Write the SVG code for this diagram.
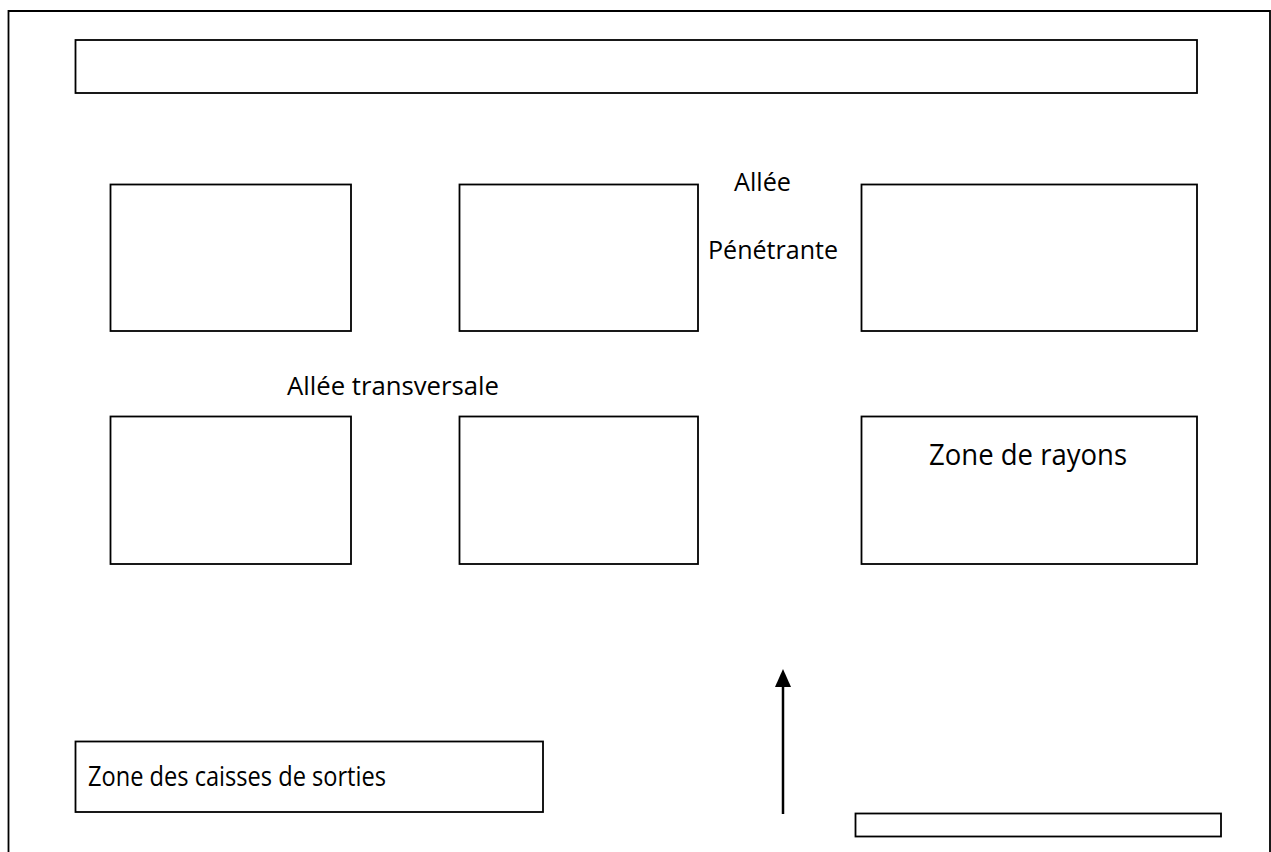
<svg xmlns="http://www.w3.org/2000/svg" width="1271" height="852" viewBox="0 0 1271 852">
<style>
.b{fill:#fff;stroke:#000;stroke-width:1.8}
.t{font-family:"Open Sans","Liberation Sans",sans-serif;fill:#000}
</style>
<defs>
<marker id="ah" markerWidth="18" markerHeight="16" refX="1" refY="8" orient="auto" markerUnits="userSpaceOnUse" viewBox="0 0 18 16">
<path d="M0,0 L18,8 L0,16 Z" fill="#000"/>
</marker>
</defs>
<rect width="1271" height="852" fill="#fff"/>
<g id="frame"><path d="M8.5,852 V11 H1270 V852" fill="none" stroke="#000" stroke-width="1.8"/></g>
<g id="topbar"><rect class="b" x="75.5" y="40" width="1121.5" height="53"/></g>
<g id="r1c1"><rect class="b" x="110.5" y="184.5" width="240.5" height="146.5"/></g>
<g id="r1c2"><rect class="b" x="459.5" y="184.5" width="238.5" height="146.5"/></g>
<g id="r1c3"><rect class="b" x="861.5" y="184.5" width="335.5" height="146.5"/></g>
<g id="r2c1"><rect class="b" x="110.5" y="416.5" width="240.5" height="147.5"/></g>
<g id="r2c2"><rect class="b" x="459.5" y="416.5" width="238.5" height="147.5"/></g>
<g id="r2c3"><rect class="b" x="861.5" y="416.5" width="335.5" height="147.5"/>
<text class="t" x="929" y="465" font-size="29" textLength="198" lengthAdjust="spacingAndGlyphs">Zone de rayons</text></g>
<g id="caisses"><rect class="b" x="75.5" y="741.5" width="467.5" height="70.5"/>
<text class="t" x="88" y="786" font-size="27" textLength="298" lengthAdjust="spacingAndGlyphs">Zone des caisses de sorties</text></g>
<g id="entree"><rect class="b" x="855.5" y="813.5" width="365.5" height="23"/></g>
<g id="labels">
<text class="t" x="734" y="191" font-size="25" textLength="57" lengthAdjust="spacingAndGlyphs">Allée</text>
<text class="t" x="708" y="259" font-size="25" textLength="130" lengthAdjust="spacingAndGlyphs">Pénétrante</text>
<text class="t" x="287" y="395" font-size="25" textLength="212" lengthAdjust="spacingAndGlyphs">Allée transversale</text>
</g>
<g id="connectors">
<line x1="783" y1="814" x2="783" y2="686" stroke="#000" stroke-width="2.5" marker-end="url(#ah)"/>
</g>
</svg>
